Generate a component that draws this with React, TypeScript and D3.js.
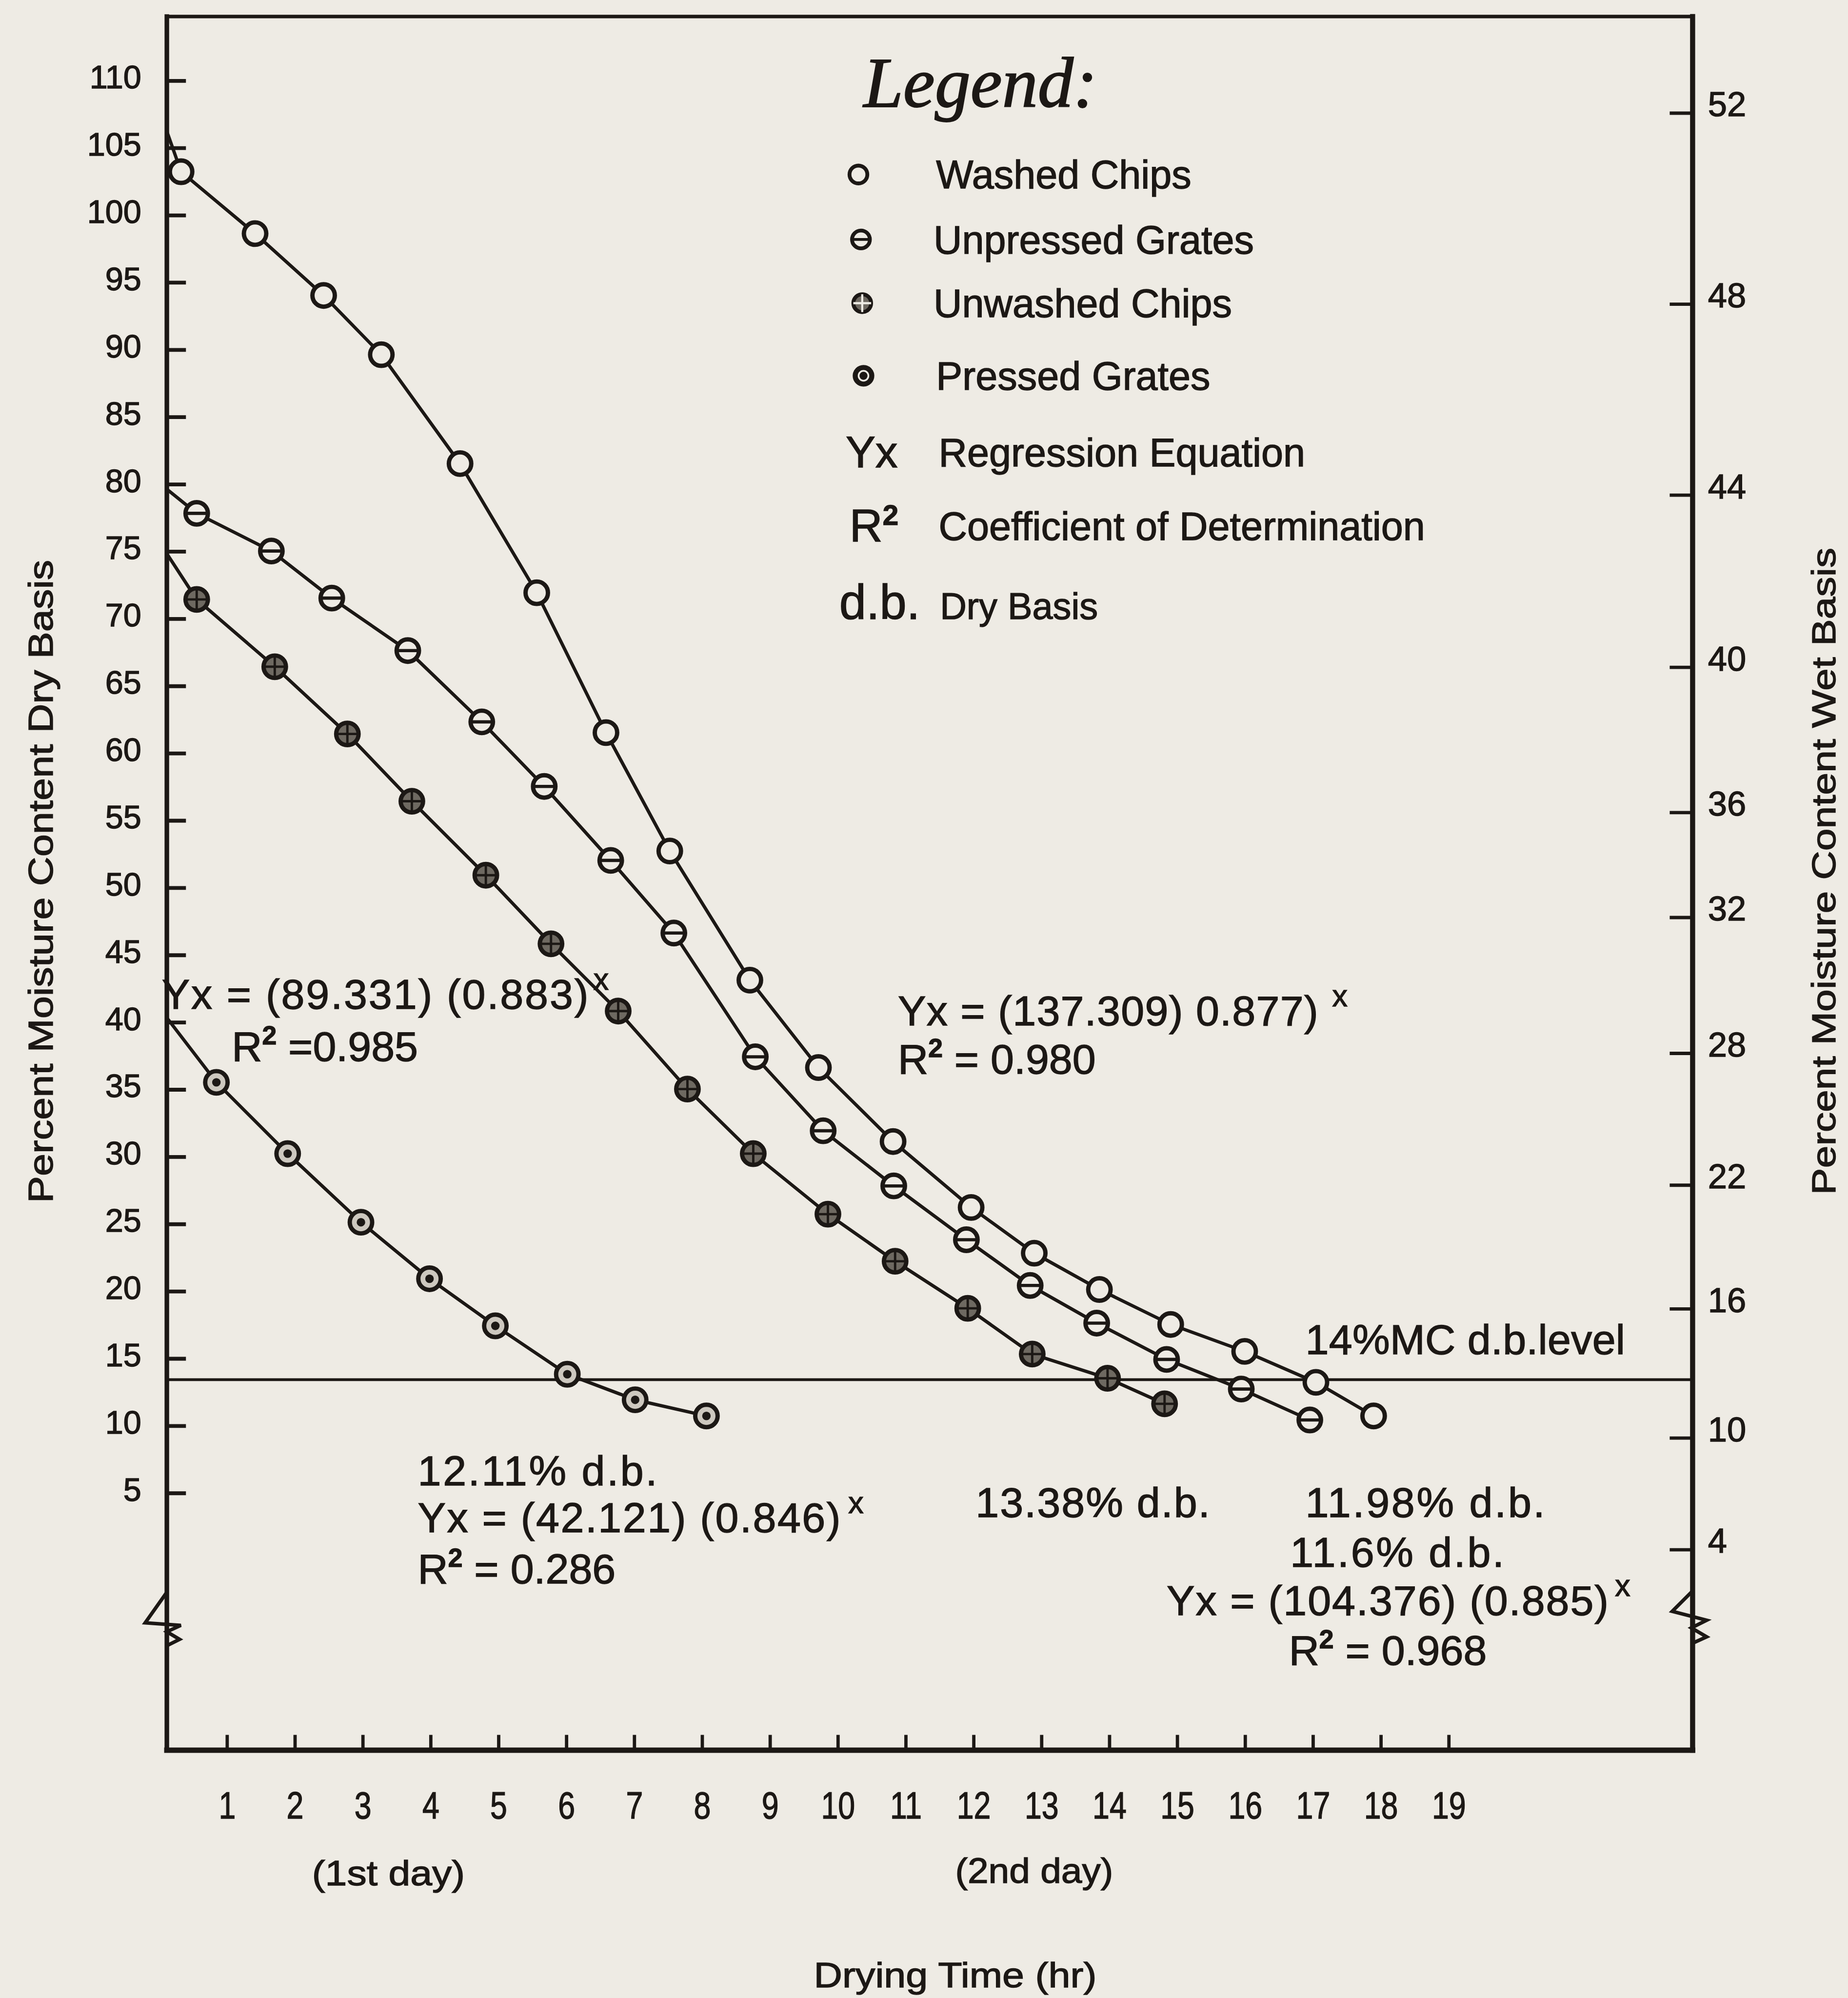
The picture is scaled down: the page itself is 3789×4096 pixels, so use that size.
import React, { useEffect, useRef } from "react";
import * as d3 from "d3";

// ---------- DATA ----------
// Drying time (hr) and moisture content (% dry basis) of each plotted point
const washedChipsHours = [0.33, 1.42, 2.43, 3.28, 4.44, 5.57, 6.59, 7.53, 8.71, 9.72, 10.82, 11.97, 12.9, 13.86, 14.91, 16.0, 17.05, 17.9];
const washedChipsMC = [103.2, 98.6, 94.0, 89.6, 81.5, 71.9, 61.5, 52.7, 43.1, 36.6, 31.1, 26.2, 22.8, 20.1, 17.5, 15.5, 13.2, 10.7];

const unpressedGratesHours = [0.56, 1.66, 2.55, 3.67, 4.76, 5.68, 6.66, 7.59, 8.79, 9.79, 10.83, 11.9, 12.84, 13.82, 14.85, 15.95, 16.96];
const unpressedGratesMC = [77.8, 75.0, 71.5, 67.6, 62.3, 57.5, 52.0, 46.6, 37.4, 31.9, 27.8, 23.8, 20.4, 17.6, 14.9, 12.7, 10.4];

const unwashedChipsHours = [0.56, 1.71, 2.78, 3.73, 4.82, 5.78, 6.77, 7.79, 8.76, 9.86, 10.85, 11.92, 12.87, 13.98, 14.82];
const unwashedChipsMC = [71.4, 66.4, 61.4, 56.4, 50.9, 45.8, 40.8, 35.0, 30.2, 25.7, 22.2, 18.7, 15.3, 13.5, 11.6];

const pressedGratesHours = [0.85, 1.9, 2.98, 3.99, 4.96, 6.02, 7.02, 8.07];
const pressedGratesMC = [35.5, 30.2, 25.1, 20.9, 17.4, 13.8, 11.9, 10.7];

// Moisture content where each curve meets the left axis (no marker there)
const seriesNames = ["Washed Chips", "Unpressed Grates", "Unwashed Chips", "Pressed Grates"];
const seriesStartMC = [106.2, 79.6, 74.8, 40.3];

// Axis ticks
const hourTicks = [1, 2, 3, 4, 5, 6, 7, 8, 9, 10, 11, 12, 13, 14, 15, 16, 17, 18, 19];
const dryBasisTicks = [5, 10, 15, 20, 25, 30, 35, 40, 45, 50, 55, 60, 65, 70, 75, 80, 85, 90, 95, 100, 105, 110];
const wetBasisTicks = [52, 48, 44, 40, 36, 32, 28, 22, 16, 10, 4];
// dry-basis level at which each wet-basis tick sits on the right axis
const wetBasisTickDryLevel = [107.6, 93.4, 79.2, 66.4, 55.6, 47.8, 37.7, 27.9, 18.7, 9.1, 0.8];
const mcLevelDryBasis = 13.4;

// ---------- LAYOUT ----------
const S = 3789 / 1451;
const INK = "#1c1815";
const PAPER = "#eeebe4";
const FONT = "'Liberation Sans', Arial, Helvetica, sans-serif";
const FRAME = { left: 131, right: 1329, top: 13, bottom: 1374 };
const TEXT_STROKE = 0.55;

type Marker = "open" | "bar" | "cross" | "dot";
const seriesMarkers: Marker[] = ["open", "bar", "cross", "dot"];

function drawMarker(g: any, type: Marker, r: number, sw: number, legend = false) {
  const fill =
    type === "cross" ? "#6e6961" : type === "dot" ? (legend ? INK : "#cdc8bf") : PAPER;
  g.append("circle").attr("r", r).attr("fill", fill).attr("stroke", INK).attr("stroke-width", sw);
  if (type === "bar") {
    g.append("line").attr("x1", -r).attr("x2", r).attr("stroke", INK).attr("stroke-width", sw * 0.75);
  } else if (type === "cross") {
    const c = legend ? PAPER : INK;
    g.append("line").attr("x1", -r).attr("x2", r).attr("stroke", c).attr("stroke-width", sw * 0.55);
    g.append("line").attr("y1", -r).attr("y2", r).attr("stroke", c).attr("stroke-width", sw * 0.55);
  } else if (type === "dot") {
    if (legend) {
      g.append("circle").attr("r", r * 0.55).attr("fill", "none").attr("stroke", PAPER).attr("stroke-width", sw * 0.45);
    } else {
      g.append("circle").attr("r", r * 0.38).attr("fill", INK);
    }
  }
}

function addText(parent: any, x: number, y: number, str: string, size: number, opts: any = {}) {
  const t = parent
    .append("text")
    .attr("x", x)
    .attr("y", y)
    .attr("font-size", size)
    .attr("font-family", opts.family || FONT)
    .attr("fill", INK)
    .attr("stroke", INK)
    .attr("stroke-width", opts.stroke ?? TEXT_STROKE)
    .text(str);
  if (opts.anchor) t.attr("text-anchor", opts.anchor);
  if (opts.length) t.attr("textLength", opts.length).attr("lengthAdjust", opts.adjust || "spacing");
  if (opts.style) t.attr("font-style", opts.style);
  if (opts.transform) t.attr("transform", opts.transform);
  if (opts.baseline) t.attr("dominant-baseline", opts.baseline);
  return t;
}

function addR2(parent: any, x: number, y: number, value: string, size: number, gap: string) {
  const t = parent.append("text").attr("x", x).attr("y", y).attr("font-size", size)
    .attr("font-family", FONT).attr("fill", INK).attr("stroke", INK).attr("stroke-width", TEXT_STROKE);
  t.append("tspan").text("R");
  t.append("tspan").attr("dy", -13).attr("font-size", size * 0.62).attr("font-weight", "bold").text("2");
  t.append("tspan").attr("dy", 13).text(gap + value);
}

export default function App() {
  const ref = useRef<SVGSVGElement>(null);

  useEffect(() => {
    const svg = d3.select(ref.current);
    svg.selectAll("*").remove();
    svg.append("rect").attr("width", 3789).attr("height", 4096).attr("fill", PAPER);
    const g = svg.append("g").attr("transform", `scale(${S})`);

    const x = d3.scaleLinear().domain([0.12, 22.6]).range([FRAME.left, FRAME.right]);
    const y = d3.scaleLinear().domain([0, 110]).range([1224.6, 63]);
    const yWet = d3.scaleLinear().domain(wetBasisTicks).range(wetBasisTickDryLevel.map((v) => y(v)));

    // ---- axes ----
    const bottom = g.append("g").attr("transform", `translate(0,${FRAME.bottom})`)
      .call(d3.axisBottom(x).tickValues(hourTicks).tickSize(-12).tickFormat(d3.format("d")));
    bottom.select(".domain").remove();
    bottom.selectAll("line").attr("stroke", INK).attr("stroke-width", 2.6);
    bottom.selectAll("text").attr("y", 43).attr("dy", "0.35em").attr("font-size", 30)
      .attr("font-family", FONT).attr("fill", INK).attr("stroke", INK).attr("stroke-width", TEXT_STROKE)
      .attr("transform", "scale(0.8,1)");

    const left = g.append("g").attr("transform", `translate(${FRAME.left},0)`)
      .call(d3.axisRight(y).tickValues(dryBasisTicks).tickSize(15).tickFormat(d3.format("d")));
    left.select(".domain").remove();
    left.selectAll("line").attr("stroke", INK).attr("stroke-width", 3);
    left.selectAll("text").attr("x", -20).attr("y", -3).attr("dy", "0.35em").attr("text-anchor", "end")
      .attr("font-size", 25.5).attr("font-family", FONT).attr("fill", INK)
      .attr("stroke", INK).attr("stroke-width", TEXT_STROKE);

    const right = g.append("g").attr("transform", `translate(${FRAME.right},0)`)
      .call(d3.axisLeft(yWet).tickValues(wetBasisTicks).tickSize(18).tickFormat(d3.format("d")));
    right.select(".domain").remove();
    right.selectAll("line").attr("stroke", INK).attr("stroke-width", 2.6);
    right.selectAll("text").attr("x", 12).attr("y", -7).attr("dy", "0.35em").attr("text-anchor", "start")
      .attr("font-size", 27).attr("font-family", FONT).attr("fill", INK)
      .attr("stroke", INK).attr("stroke-width", TEXT_STROKE);

    // ---- frame ----
    const frame = g.append("g").attr("stroke", INK).attr("stroke-linecap", "square");
    frame.append("line").attr("x1", FRAME.left).attr("x2", FRAME.right).attr("y1", FRAME.top).attr("y2", FRAME.top).attr("stroke-width", 2.8);
    frame.append("line").attr("x1", FRAME.left).attr("x2", FRAME.left).attr("y1", FRAME.top).attr("y2", FRAME.bottom).attr("stroke-width", 3.6);
    frame.append("line").attr("x1", FRAME.right).attr("x2", FRAME.right).attr("y1", FRAME.top).attr("y2", FRAME.bottom).attr("stroke-width", 4);
    frame.append("line").attr("x1", FRAME.left).attr("x2", FRAME.right).attr("y1", FRAME.bottom).attr("y2", FRAME.bottom).attr("stroke-width", 4.2);

    // axis break symbols
    const brk = g.append("g").attr("fill", "none").attr("stroke", INK).attr("stroke-width", 2.8).attr("stroke-linejoin", "miter");
    brk.append("path").attr("d", `M${FRAME.left},1250 L${FRAME.left - 17},1274 L${FRAME.left + 11},1276 L${FRAME.left},1281 L${FRAME.left + 10},1287 L${FRAME.left},1292`);
    brk.append("path").attr("d", `M${FRAME.right},1249 L${FRAME.right - 16},1265 L${FRAME.right + 11},1272 L${FRAME.right - 1},1278 L${FRAME.right + 11},1285 L${FRAME.right},1290`);

    // ---- 14% MC level ----
    g.append("line").attr("x1", FRAME.left).attr("x2", FRAME.right)
      .attr("y1", y(mcLevelDryBasis)).attr("y2", y(mcLevelDryBasis))
      .attr("stroke", INK).attr("stroke-width", 2.2);

    // ---- series ----
    const seriesHours = [washedChipsHours, unpressedGratesHours, unwashedChipsHours, pressedGratesHours];
    const seriesMC = [washedChipsMC, unpressedGratesMC, unwashedChipsMC, pressedGratesMC];
    const line = d3.line<[number, number]>().x((d) => x(d[0])).y((d) => y(d[1]));
    seriesNames.forEach((name, i) => {
      const pts: [number, number][] = seriesHours[i].map((h, j) => [h, seriesMC[i][j]]);
      const full: [number, number][] = [[x.domain()[0], seriesStartMC[i]], ...pts];
      g.append("path").attr("d", line(full)).attr("fill", "none").attr("stroke", INK).attr("stroke-width", 2.6);
      const mg = g.append("g").attr("class", "markers").attr("data-series", name);
      pts.forEach((p) => {
        const m = mg.append("g").attr("transform", `translate(${x(p[0])},${y(p[1])})`);
        drawMarker(m, seriesMarkers[i], 8.8, 3.4);
      });
    });

    // ---- legend ----
    addText(g, 678, 84, "Legend:", 56, { family: "'Liberation Serif', 'DejaVu Serif', serif", style: "italic", stroke: 0.8 });
    const legendY = [137, 188, 238, 295];
    const legendSymX = [674, 676, 677, 678];
    const legendTextX = [735, 733, 733, 735];
    seriesNames.forEach((name, i) => {
      const m = g.append("g").attr("transform", `translate(${legendSymX[i]},${legendY[i]})`);
      drawMarker(m, seriesMarkers[i], 7, 3, true);
      addText(g, legendTextX[i], legendY[i] + 11, name, 31);
    });
    addText(g, 664, 367, "Yx", 35);
    addText(g, 737, 366, "Regression Equation", 31);
    addR2(g, 667, 425, "", 36, "");
    addText(g, 737, 424, "Coefficient of Determination", 31);
    addText(g, 659, 486, "d.b.", 38);
    addText(g, 738, 486, "Dry Basis", 29);

    // ---- annotations ----
    const eq = (xx: number, yy: number, str: string, len: number, supX: number) => {
      addText(g, xx, yy, str, 33, { length: len });
      addText(g, supX, yy - 15, "x", 24);
    };
    eq(127, 792, "Yx = (89.331) (0.883)", 335, 466);
    addR2(g, 182, 833, "0.985", 33, "   =");
    eq(705, 805, "Yx = (137.309) 0.877)", 330, 1046);
    addR2(g, 705, 843, "0.980", 33, " = ");
    addText(g, 1025, 1063, "14%MC d.b.level", 33, { length: 251 });
    addText(g, 328, 1166, "12.11% d.b.", 33, { length: 188 });
    eq(328, 1203, "Yx = (42.121) (0.846)", 332, 666);
    addR2(g, 328, 1243, "0.286", 33, " = ");
    addText(g, 766, 1191, "13.38% d.b.", 33, { length: 184 });
    addText(g, 1025, 1191, "11.98% d.b.", 33, { length: 188 });
    addText(g, 1013, 1230, "11.6% d.b.", 33, { length: 168 });
    eq(916, 1268, "Yx = (104.376) (0.885)", 347, 1268);
    addR2(g, 1012, 1307, "0.968", 33, " = ");

    // ---- axis titles ----
    addText(g, 0, 0, "Percent Moisture Content Dry Basis", 27, {
      anchor: "middle", baseline: "central", length: 505, adjust: "spacingAndGlyphs",
      transform: "translate(32,692) rotate(-90)",
    });
    addText(g, 0, 0, "Percent Moisture Content Wet Basis", 26, {
      anchor: "middle", baseline: "central", length: 508, adjust: "spacingAndGlyphs",
      transform: "translate(1432,684) rotate(-90)",
    });
    addText(g, 305, 1480, "(1st day)", 28, { anchor: "middle", length: 120, adjust: "spacingAndGlyphs" });
    addText(g, 812, 1478, "(2nd day)", 28, { anchor: "middle", length: 124, adjust: "spacingAndGlyphs" });
    addText(g, 750, 1560, "Drying Time (hr)", 28, { anchor: "middle", length: 222, adjust: "spacingAndGlyphs" });
  }, []);

  return (
    <svg
      ref={ref}
      width={3789}
      height={4096}
      style={{ position: "absolute", left: 0, top: 0, display: "block" }}
    />
  );
}
